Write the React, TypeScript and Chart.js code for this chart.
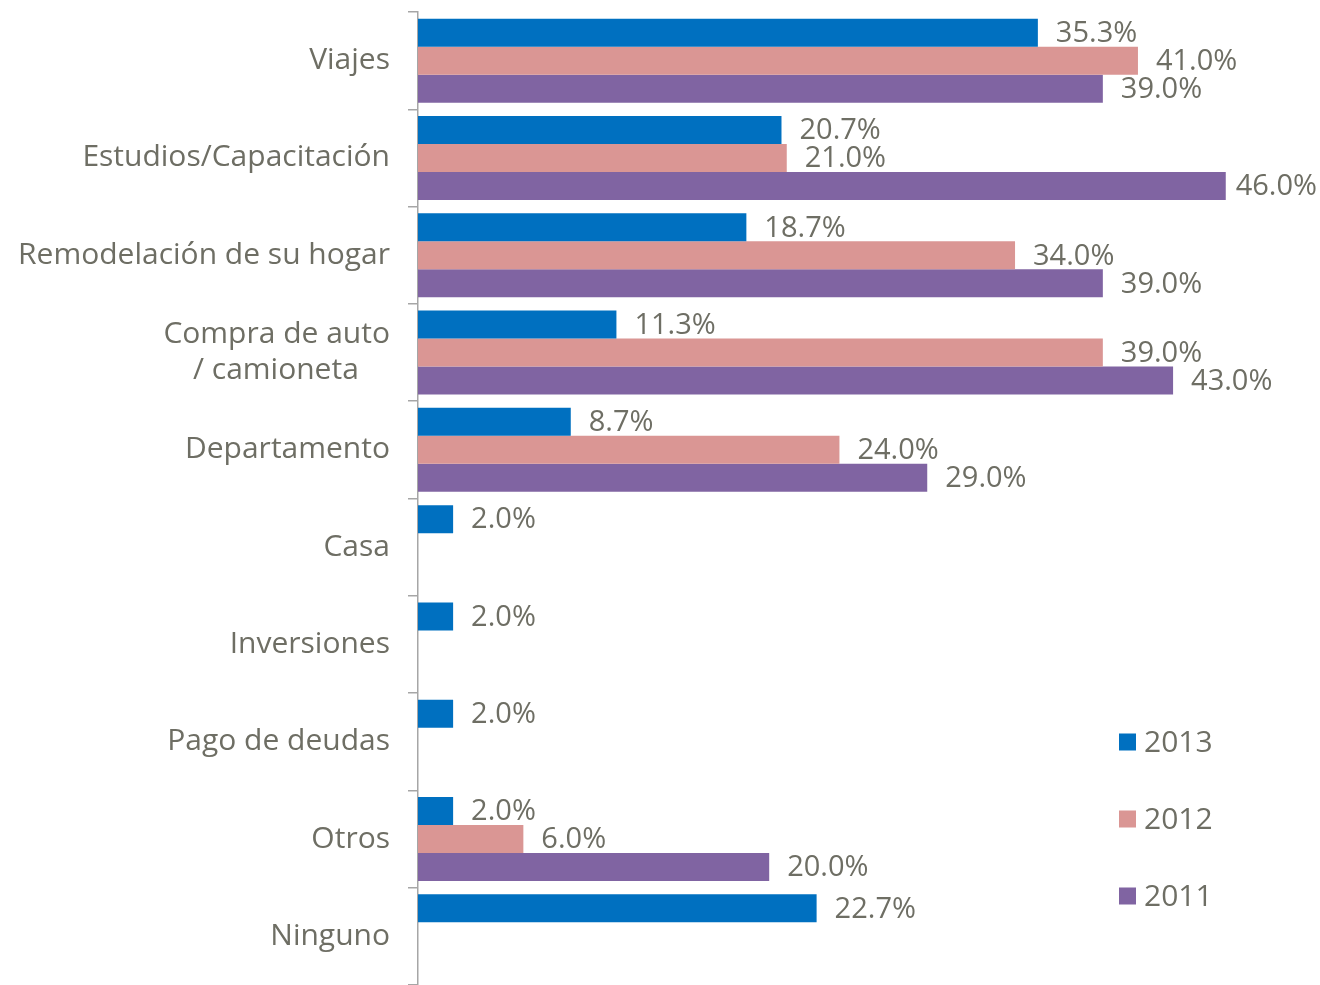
import React, { useEffect, useRef } from "react";
import { Chart, registerables } from "chart.js";

Chart.register(...registerables);

const categories: (string | string[])[] = [
  "Viajes",
  "Estudios/Capacitación",
  "Remodelación de su hogar",
  ["Compra de auto", "/ camioneta\u00A0\u00A0\u00A0\u00A0"],
  "Departamento",
  "Casa",
  "Inversiones",
  "Pago de deudas",
  "Otros",
  "Ninguno",
];

const seriesNames = ["2013", "2012", "2011"];
const values2013: (number | null)[] = [35.3, 20.7, 18.7, 11.3, 8.7, 2.0, 2.0, 2.0, 2.0, 22.7];
const values2012: (number | null)[] = [41.0, 21.0, 34.0, 39.0, 24.0, null, null, null, 6.0, null];
const values2011: (number | null)[] = [39.0, 46.0, 39.0, 43.0, 29.0, null, null, null, 20.0, null];
const seriesColors = ["#0070C0", "#DA9694", "#8064A2"];

const TEXT_COLOR = "#6e6e64";
const FONT_FAMILY = "'Open Sans', sans-serif";

const dataLabelPlugin = {
  id: "dataLabels",
  afterDatasetsDraw(chart: any) {
    const ctx = chart.ctx;
    ctx.save();
    ctx.font = `29px ${FONT_FAMILY}`;
    ctx.fillStyle = TEXT_COLOR;
    ctx.textAlign = "left";
    ctx.textBaseline = "middle";
    const maxRight = chart.width - 3;
    chart.data.datasets.forEach((ds: any, di: number) => {
      const meta = chart.getDatasetMeta(di);
      meta.data.forEach((el: any, i: number) => {
        const v = ds.data[i];
        if (v === null || v === undefined) return;
        const text = v.toFixed(1) + "%";
        const w = ctx.measureText(text).width;
        const x = Math.min(el.x + 18, maxRight - w);
        ctx.fillText(text, x, el.y + 1);
      });
    });
    ctx.restore();
  },
};

const legendPlugin = {
  id: "customLegend",
  afterDraw(chart: any) {
    const ctx = chart.ctx;
    ctx.save();
    ctx.font = `30px ${FONT_FAMILY}`;
    ctx.textAlign = "left";
    ctx.textBaseline = "middle";
    const x0 = 1119;
    const y0 = 742;
    const gap = 77;
    chart.data.datasets.forEach((ds: any, di: number) => {
      const cy = y0 + di * gap;
      ctx.fillStyle = ds.backgroundColor;
      ctx.fillRect(x0, cy - 8.5, 17, 17);
      ctx.fillStyle = TEXT_COLOR;
      ctx.fillText(ds.label, x0 + 25, cy + 1);
    });
    ctx.restore();
  },
};

export default function App() {
  const canvasRef = useRef<HTMLCanvasElement | null>(null);

  useEffect(() => {
    document.body.style.margin = "0";
    const canvas = canvasRef.current;
    if (!canvas) return;
    const chart = new Chart(canvas, {
      type: "bar",
      data: {
        labels: categories,
        datasets: [values2013, values2012, values2011].map((d, i) => ({
          label: seriesNames[i],
          data: d,
          backgroundColor: seriesColors[i],
          borderWidth: 0,
          categoryPercentage: 0.863,
          barPercentage: 1.0,
        })),
      },
      options: {
        indexAxis: "y",
        responsive: false,
        animation: false,
        devicePixelRatio: 1,
        layout: { padding: { top: 12, right: 24, bottom: 0, left: 0 }, autoPadding: false },
        plugins: {
          legend: { display: false },
          tooltip: { enabled: false },
        },
        scales: {
          x: {
            display: false,
            min: 0,
            max: 50,
          },
          y: {
            afterFit: (scale: any) => {
              scale.width = 418;
              scale.paddingTop = 0;
              scale.paddingBottom = 0;
            },
            grid: {
              drawOnChartArea: false,
              drawTicks: true,
              tickLength: 10,
              offset: true,
              color: "#a6a6a6",
              lineWidth: 1.5,
            },
            border: { display: true, color: "#a6a6a6", width: 1.5 },
            ticks: {
              padding: 18,
              color: TEXT_COLOR,
              font: { family: FONT_FAMILY, size: 30, lineHeight: 1.2 },
              autoSkip: false,
            },
          },
        },
      },
      plugins: [dataLabelPlugin, legendPlugin],
    });
    return () => chart.destroy();
  }, []);

  return (
    <div style={{ position: "absolute", left: 0, top: 0, width: 1320, height: 985 }}>
      <canvas ref={canvasRef} width={1320} height={985} />
    </div>
  );
}
